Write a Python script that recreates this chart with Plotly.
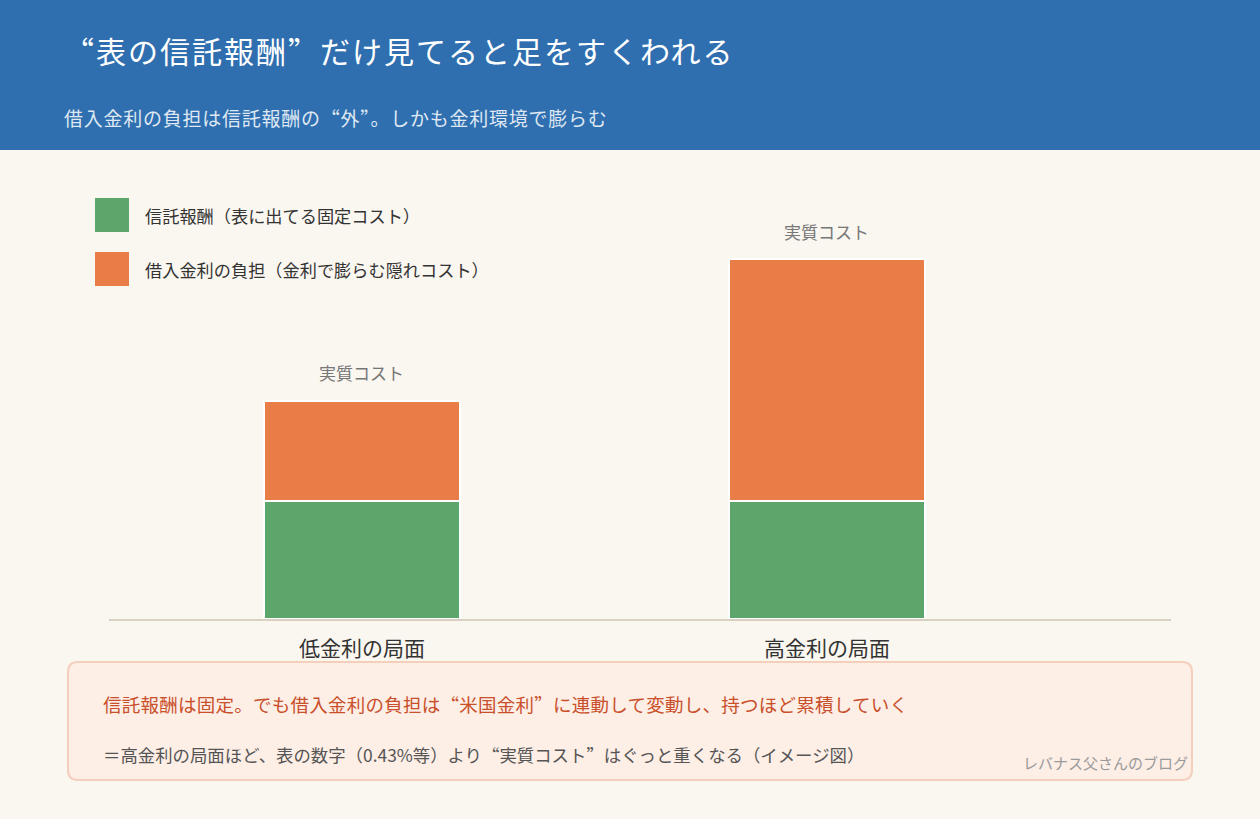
import plotly.graph_objects as go

# ---- data ----
categories = ["低金利の局面", "高金利の局面"]
trust_fee = [1.0, 1.0]              # 信託報酬（固定）
borrow_cost = [0.85, 2.05]          # 借入金利の負担
series_names = ["信託報酬（表に出てる固定コスト）", "借入金利の負担（金利で膨らむ隠れコスト）"]
total_label = "実質コスト"
title_text = "“表の信託報酬”だけ見てると足をすくわれる"
subtitle_text = "借入金利の負担は信託報酬の“外”。しかも金利環境で膨らむ"
note_line1 = "信託報酬は固定。でも借入金利の負担は“米国金利”に連動して変動し、持つほど累積していく"
note_line2 = "＝高金利の局面ほど、表の数字（0.43%等）より“実質コスト”はぐっと重くなる（イメージ図）"
watermark = "レバナス父さんのブログ"

W, H = 1260, 819
L, R, T, B = 109, 89, 190, 200
PW, PH = W - L - R, H - T - B

def px(x):
    return (x - L) / PW

def py(y):
    return (H - B - y) / PH

FONT = "Noto Sans CJK JP"
QFONT = "Noto Sans CJK SC"
GREEN = "#5ca56b"
ORANGE = "#e97d48"
BLUE = "#2f6faf"
BG = "#faf6f0"

def fmt(s, spacing=0):
    # render curly quotes as full-width glyphs, optional letter spacing
    for q in ("“", "”"):
        s = s.replace(q, f"<span style=\"font-family:'{QFONT}'\">{q}</span>")
    if spacing:
        s = f"<span style=\"letter-spacing:{spacing}px\">{s}</span>"
    return s

xs = list(range(len(categories)))
fig = go.Figure()
fig.add_trace(go.Bar(x=xs, y=trust_fee, name=series_names[0], marker=dict(color=GREEN, line=dict(color="white", width=2)), width=0.42, showlegend=False))
fig.add_trace(go.Bar(x=xs, y=borrow_cost, name=series_names[1], marker=dict(color=ORANGE, line=dict(color="white", width=2)), width=0.42, showlegend=False))

totals = [a + b for a, b in zip(trust_fee, borrow_cost)]
annotations = []
for x, t in zip(xs, totals):
    annotations.append(dict(x=x, y=t, xref="x", yref="y", text=total_label, showarrow=False,
                            yshift=28, yanchor="middle", font=dict(family=FONT, size=17, color="#777777")))

shapes = []
# header band
shapes.append(dict(type="rect", xref="paper", yref="paper", x0=px(0), x1=px(W), y0=py(150), y1=py(0),
                   fillcolor=BLUE, line=dict(width=0), layer="below"))
annotations.append(dict(xref="paper", yref="paper", x=px(62), y=py(50), text=fmt(title_text, 2), showarrow=False,
                        xanchor="left", yanchor="middle", font=dict(family=FONT, size=30, color="white")))
annotations.append(dict(xref="paper", yref="paper", x=px(62), y=py(117), text=fmt(subtitle_text, 0.75), showarrow=False,
                        xanchor="left", yanchor="middle", font=dict(family=FONT, size=19, color="#dfe8f3")))

# legend (manual)
for i, (name, col) in enumerate(zip(series_names, [GREEN, ORANGE])):
    y0 = 198 + i * 54
    shapes.append(dict(type="rect", xref="paper", yref="paper", x0=px(95), x1=px(129), y0=py(y0 + 34), y1=py(y0),
                       fillcolor=col, line=dict(width=0)))
    annotations.append(dict(xref="paper", yref="paper", x=px(143), y=py(y0 + 17), text=name, showarrow=False,
                            xanchor="left", yanchor="middle", font=dict(family=FONT, size=17.2, color="#333333")))

# note box with rounded corners
bx0, bx1, by0, by1, r = 68, 1192, 662, 780, 10
def P(x, y):
    return f"{px(x)},{py(y)}"
path = (f"M {P(bx0 + r, by0)} L {P(bx1 - r, by0)} Q {P(bx1, by0)} {P(bx1, by0 + r)} "
        f"L {P(bx1, by1 - r)} Q {P(bx1, by1)} {P(bx1 - r, by1)} L {P(bx0 + r, by1)} "
        f"Q {P(bx0, by1)} {P(bx0, by1 - r)} L {P(bx0, by0 + r)} Q {P(bx0, by0)} {P(bx0 + r, by0)} Z")
shapes.append(dict(type="path", xref="paper", yref="paper", path=path, fillcolor="#fdeee6",
                   line=dict(color="#f3cfbc", width=2), layer="below"))
annotations.append(dict(xref="paper", yref="paper", x=px(101), y=py(704), text=fmt(note_line1, 0.25), showarrow=False,
                        xanchor="left", yanchor="middle", font=dict(family=FONT, size=18.5, color="#c9502a")))
annotations.append(dict(xref="paper", yref="paper", x=px(101), y=py(754), text=fmt(note_line2), showarrow=False,
                        xanchor="left", yanchor="middle", font=dict(family=FONT, size=17.4, color="#555555")))
annotations.append(dict(xref="paper", yref="paper", x=px(1190), y=py(762), text=watermark, showarrow=False,
                        xanchor="right", yanchor="middle", font=dict(family=FONT, size=15, color="#9a9a9a")))

fig.update_layout(
    width=W, height=H,
    margin=dict(l=L, r=R, t=T, b=B, pad=0),
    paper_bgcolor=BG, plot_bgcolor=BG,
    barmode="stack", bargap=0,
    font=dict(family=FONT),
    shapes=shapes, annotations=annotations,
    xaxis=dict(tickvals=xs, ticktext=categories, range=[-0.544, 1.740], showgrid=False, zeroline=False,
               showline=True, linecolor="#d8d0c0", linewidth=2, layer="below traces",
               ticks="", ticklabelstandoff=10, tickfont=dict(family=FONT, size=21, color="#333333"),
               fixedrange=True),
    yaxis=dict(range=[0, PH / 118.0], visible=False, showgrid=False, zeroline=False, fixedrange=True),
)

fig.write_html("out.html")
